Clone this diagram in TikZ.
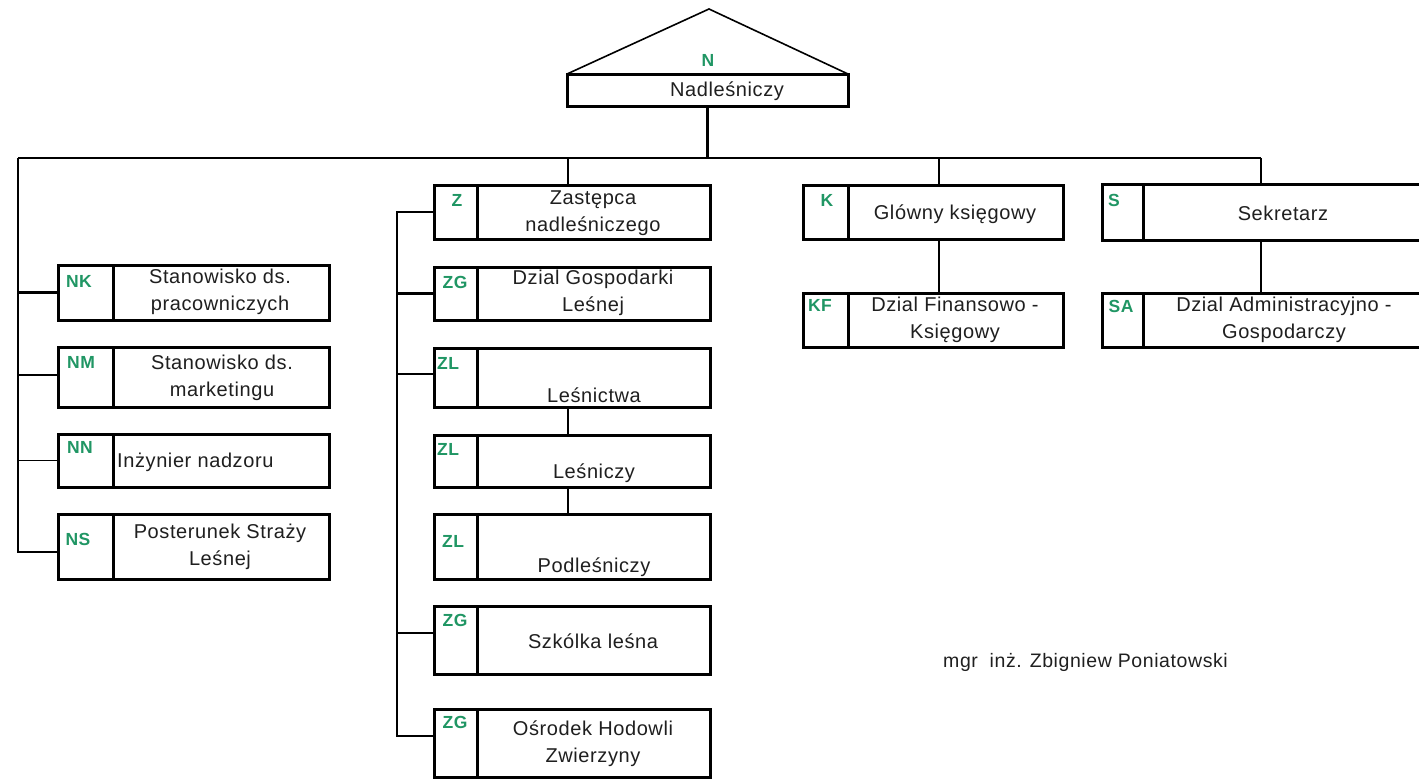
\documentclass[tikz,border=0pt]{standalone}
\usepackage{fontspec}
\setmainfont{Liberation Sans}[LetterSpace=3]
\definecolor{lblgreen}{RGB}{32,150,100}
\tikzset{
  orgbox/.style={draw=black, line width=3pt, inner sep=0pt, outer sep=0pt, anchor=north west, fill=white},
  divline/.style={line width=3pt},
  conn/.style={line width=2.8pt},
  thinconn/.style={line width=1.5pt},
  roofline/.style={line width=1.6pt, line join=miter},
  lbl/.style={text=lblgreen, font=\fontsize{17.5}{19}\selectfont\bfseries, inner sep=0pt},
  txt/.style={font=\fontsize{20}{27}\selectfont, align=center, inner sep=0pt, text=black!88},
}
\newcommand\orgrect[6]{%
  \node[orgbox, minimum width={(#4-#2)*1pt}, minimum height={(#5-#3)*1pt}] (#1) at (#2,#3) {};
  \draw[divline] ([xshift={(#6-#2)*1pt}]#1.north west) -- ([xshift={(#6-#2)*1pt}]#1.south west);
}
\begin{document}
\begin{tikzpicture}[x=1pt,y=-1pt]
\useasboundingbox (0,0) rectangle (1419,779);
% roof and head box
\coordinate (apex) at (709,9);
\node[orgbox, minimum width=281pt, minimum height=32pt] (N) at (567,74) {};
\draw[roofline] (N.north west) -- (apex) -- (N.north east);
\node[lbl] (Nl) at (708,60) {N};
\node[txt] (Nt) at (727,91) {Nadleśniczy};

% bus
\coordinate (busL) at (18,158);
\coordinate (busR) at (1261,158);
\coordinate (zd) at (568,158);
\coordinate (kd) at (939,158);
\coordinate (zv) at (397,213);

% left column
\orgrect{NK}{58}{265}{329}{320}{113}
\orgrect{NM}{58}{347}{329}{407}{113}
\orgrect{NN}{58}{434}{329}{487}{113}
\orgrect{NS}{58}{514}{329}{579}{113}
% middle column
\orgrect{Z}{434}{185}{710}{239}{477}
\orgrect{ZG}{434}{267}{710}{320}{477}
\orgrect{ZLa}{434}{348}{710}{407}{477}
\orgrect{ZLb}{434}{435}{710}{487}{477}
\orgrect{ZLc}{434}{514}{710}{579}{477}
\orgrect{ZS}{434}{606}{710}{674}{477}
\orgrect{ZO}{434}{709}{710}{777}{477}
% right columns
\orgrect{K}{803}{185}{1063}{239}{848}
\orgrect{KF}{803}{293}{1063}{347}{848}
\orgrect{S}{1102}{184}{1424}{240}{1143}
\orgrect{SA}{1102}{293}{1424}{347}{1143}

% connectors
\draw[conn] (N.south) -- (N.south |- busL);
\draw[conn] (busL) -- (busR);
\draw[conn] (busR) -- (busR |- S.north);
\draw[conn] (busR |- S.south) -- (busR |- SA.north);
\draw[conn] (kd) -- (kd |- K.north);
\draw[conn] (kd |- K.south) -- (kd |- KF.north);
\draw[conn] (zd) -- (zd |- Z.north);
\draw[conn] (zd |- ZLa.south) -- (zd |- ZLb.north);
\draw[conn] (zd |- ZLb.south) -- (zd |- ZLc.north);
% left vertical and stubs
\draw[conn] (busL) |- ([yshift=-5.5pt]NS.west);
\draw[conn] (NK.west) -- (NK.west -| busL);
\draw[conn] ([yshift=2pt]NM.west) -- ([yshift=2pt]NM.west -| busL);
\draw[thinconn] (NN.west) -- (NN.west -| busL);
% middle vertical and stubs
\draw[conn] (Z.west) -- (Z.west -| zv) |- ([yshift=7pt]ZO.west);
\draw[conn] (ZG.west) -- (ZG.west -| zv);
\draw[conn] ([yshift=3.5pt]ZLa.west) -- ([yshift=3.5pt]ZLa.west -| zv);
\draw[thinconn] ([yshift=7pt]ZS.west) -- ([yshift=7pt]ZS.west -| zv);

% labels
\node[lbl] (NKl) at (79,281) {NK};
\node[lbl] (NMl) at (81,362) {NM};
\node[lbl] (NNl) at (80,447) {NN};
\node[lbl] (NSl) at (78,539) {NS};
\node[lbl] (Zl) at (457,200) {Z};
\node[lbl] (ZGl) at (455,282) {ZG};
\node[lbl] (ZLal) at (448,363) {ZL};
\node[lbl] (ZLbl) at (448,449) {ZL};
\node[lbl] (ZLcl) at (453,541) {ZL};
\node[lbl] (ZSl) at (455,620) {ZG};
\node[lbl] (ZOl) at (455,722) {ZG};
\node[lbl] (Kl) at (827,200) {K};
\node[lbl] (KFl) at (820,305) {KF};
\node[lbl] (Sl) at (1114,200) {S};
\node[lbl] (SAl) at (1121,306) {SA};

% texts
\node[txt] (NKt) at (220,292) {Stanowisko ds.\\pracowniczych};
\node[txt] (NMt) at (222,378) {Stanowisko ds.\\marketingu};
\node[txt, anchor=west] (NNt) at (117,462) {Inżynier nadzoru};
\node[txt] (NSt) at (220,547) {Posterunek Straży\\Leśnej};
\node[txt] (Zt) at (593,213) {Zastępca\\nadleśniczego};
\node[txt] (ZGt) at (593,293) {Dzial Gospodarki\\Leśnej};
\node[txt] (ZLat) at (594,395) {Leśnictwa};
\node[txt] (ZLbt) at (594,473) {Leśniczy};
\node[txt] (ZLct) at (594,567) {Podleśniczy};
\node[txt] (ZSt) at (593,641) {Szkólka leśna};
\node[txt] (ZOt) at (593,744) {Ośrodek Hodowli\\Zwierzyny};
\node[txt] (Kt) at (955,214) {Glówny księgowy};
\node[txt] (KFt) at (955,320) {Dzial Finansowo -\\Księgowy};
\node[txt] (St) at (1283,213) {Sekretarz};
\node[txt] (SAt) at (1284,320) {Dzial Administracyjno -\\Gospodarczy};
\node[txt, anchor=west, font=\fontsize{19.5}{22}\selectfont] (sig) at (943,662) {mgr\hspace{0.6em}inż. Zbigniew Poniatowski};
\end{tikzpicture}
\end{document}
